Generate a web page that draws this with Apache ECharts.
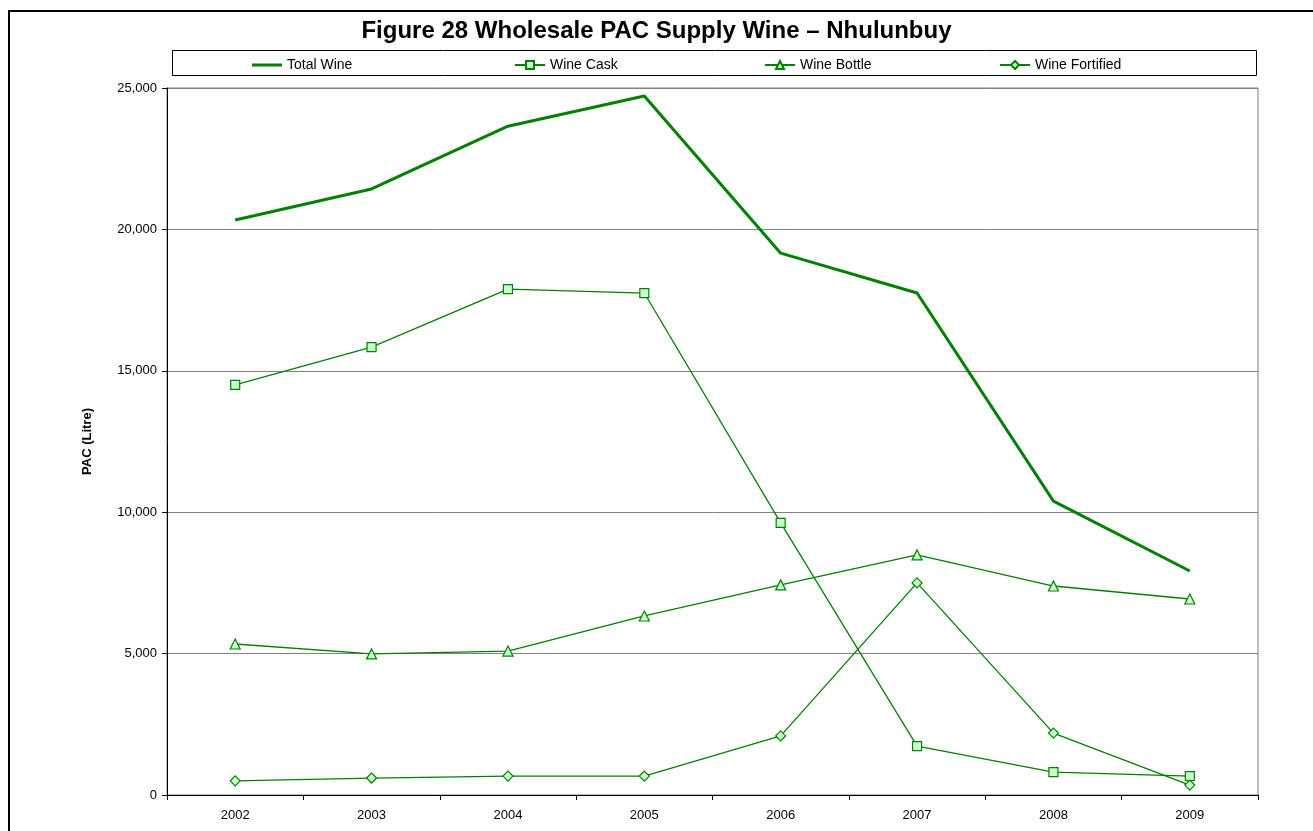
<!DOCTYPE html>
<html>
<head>
<meta charset="utf-8">
<script src="https://cdn.jsdelivr.net/npm/echarts@6/dist/echarts.min.js"></script>
<style>
  html, body { margin: 0; padding: 0; background: #fff; }
  #chart { width: 1313px; height: 831px; }
</style>
</head>
<body>
<div id="chart"></div>
<script>
// data
var years = ['2002', '2003', '2004', '2005', '2006', '2007', '2008', '2009']
var totalWine = [20330, 21430, 23650, 24720, 19160, 17750, 10390, 7920]
var wineCask = [14500, 15840, 17890, 17750, 9620, 1730, 810, 670]
var wineBottle = [5340, 4990, 5090, 6330, 7430, 8490, 7390, 6930]
var wineFortified = [500, 600, 670, 670, 2090, 7500, 2190, 350]
var yTicks = [0, 5000, 10000, 15000, 20000, 25000]

var font = '"Liberation Sans", Arial, sans-serif'
var green = '#008000'
var fill = '#ccffcc'

function fmt(v) {
  return v.toString().replace(/\B(?=(\d{3})+(?!\d))/g, ',')
}

function markerSeries(name, data, symbol, size) {
  return {
    name: name,
    type: 'line',
    data: data,
    symbol: symbol,
    symbolSize: size,
    showAllSymbol: true,
    lineStyle: { color: green, width: 1.3 },
    itemStyle: { color: fill, borderColor: green, borderWidth: 1.2 },
    emphasis: { disabled: true },
    animation: false
  }
}

function legendAt(name, left, extra) {
  var l = {
    data: [name],
    left: left,
    top: 55,
    itemWidth: 30,
    itemHeight: 10,
    itemGap: 4,
    selectedMode: false,
    textStyle: { fontFamily: font, fontSize: 14, color: '#000' }
  }
  return Object.assign(l, extra || {})
}

var chart = echarts.init(document.getElementById('chart'))
chart.setOption({
  backgroundColor: '#fff',
  title: {
    text: 'Figure 28 Wholesale PAC Supply Wine \u2013 Nhulunbuy',
    left: 'center',
    top: 14,
    textStyle: { fontFamily: font, fontSize: 24, fontWeight: 'bold', color: '#000' }
  },
  graphic: [
    {
      type: 'rect',
      shape: { x: 9, y: 11, width: 1400, height: 900 },
      style: { fill: 'none', stroke: '#000', lineWidth: 2 },
      silent: true
    },
    {
      type: 'rect',
      shape: { x: 172.5, y: 50.5, width: 1084, height: 25 },
      style: { fill: 'none', stroke: '#000', lineWidth: 1 },
      silent: true
    }
  ],
  legend: [
    legendAt('Total Wine', 247, { icon: 'rect', itemHeight: 3, top: 53, itemGap: 4 }),
    legendAt('Wine Cask', 509, { top: 53 }),
    legendAt('Wine Bottle', 759, { top: 53 }),
    legendAt('Wine Fortified', 994, { top: 53 })
  ],
  grid: {
    left: 167,
    top: 88,
    right: 55,
    bottom: 36,
    show: true,
    borderColor: '#808080',
    borderWidth: 1
  },
  xAxis: {
    type: 'category',
    data: years,
    boundaryGap: true,
    axisLine: { lineStyle: { color: '#000', width: 1 } },
    axisTick: { show: true, length: 5, alignWithLabel: false, lineStyle: { color: '#000' } },
    axisLabel: { fontFamily: font, fontSize: 13, color: '#000', margin: 14 },
    splitLine: { show: false }
  },
  yAxis: {
    type: 'value',
    min: yTicks[0],
    max: yTicks[yTicks.length - 1],
    interval: 5000,
    name: 'PAC (Litre)',
    nameLocation: 'middle',
    nameGap: 73,
    nameTextStyle: { fontFamily: font, fontSize: 13, fontWeight: 'bold', color: '#000' },
    axisLine: { show: true, lineStyle: { color: '#000', width: 1 } },
    axisTick: { show: true, length: 5, lineStyle: { color: '#000' } },
    axisLabel: { fontFamily: font, fontSize: 13, color: '#000', margin: 10, formatter: fmt },
    splitLine: { show: true, lineStyle: { color: '#808080', width: 1 } }
  },
  series: [
    {
      name: 'Total Wine',
      type: 'line',
      data: totalWine,
      symbol: 'none',
      lineStyle: { color: green, width: 3 },
      itemStyle: { color: green },
      emphasis: { disabled: true },
      animation: false
    },
    markerSeries('Wine Cask', wineCask, 'rect', 9),
    markerSeries('Wine Bottle', wineBottle, 'triangle', 10),
    markerSeries('Wine Fortified', wineFortified, 'diamond', 10)
  ]
})
</script>
</body>
</html>
